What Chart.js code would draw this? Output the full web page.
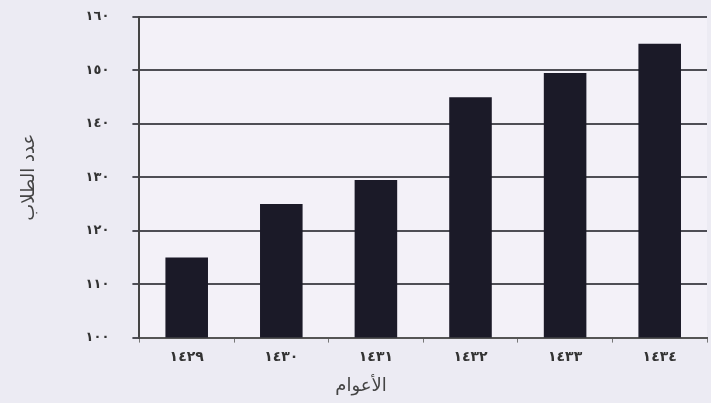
<!DOCTYPE html>
<html>
<head>
<meta charset="utf-8">
<script src="https://cdn.jsdelivr.net/npm/chart.js@4"></script>
<style>
  html, body { margin: 0; padding: 0; background: #ecebf3; }
  #wrap { width: 711px; height: 403px; }
</style>
</head>
<body>
<div id="wrap"><canvas id="studentsChart"></canvas></div>
<script>
const years = ['١٤٢٩', '١٤٣٠', '١٤٣١', '١٤٣٢', '١٤٣٣', '١٤٣٤'];
const students = [115, 125, 129.5, 145, 149.5, 155];
const yTickLabels = ['١٠٠', '١١٠', '١٢٠', '١٣٠', '١٤٠', '١٥٠', '١٦٠'];

const bgPlugin = {
  id: 'bg',
  beforeDraw(chart) {
    const { ctx, chartArea: a } = chart;
    ctx.save();
    ctx.fillStyle = '#ecebf3';
    ctx.fillRect(0, 0, chart.width, chart.height);
    ctx.fillStyle = '#f3f1f8';
    ctx.fillRect(a.left, a.top, a.right - a.left, a.bottom - a.top);
    ctx.restore();
  }
};

const ctx = document.getElementById('studentsChart');
new Chart(ctx, {
  type: 'bar',
  data: {
    labels: years,
    datasets: [{
      label: 'عدد الطلاب',
      data: students,
      backgroundColor: '#1b1a28',
      barPercentage: 0.9,
      categoryPercentage: 0.5
    }]
  },
  options: {
    responsive: true,
    maintainAspectRatio: false,
    animation: false,
    layout: { padding: { top: 17, right: 4, bottom: 6, left: 15 } },
    plugins: {
      legend: { display: false },
      tooltip: { enabled: false },
      title: {
        display: true,
        position: 'bottom',
        text: 'الأعوام',
        color: '#444',
        font: { family: 'DejaVu Sans', size: 18, weight: 'normal' },
        padding: { top: 4, bottom: 0 }
      }
    },
    scales: {
      x: {
        grid: { display: true, drawOnChartArea: false, color: '#777', tickLength: 5, offset: true },
        border: { color: '#555', width: 2 },
        ticks: { color: '#333', font: { family: 'DejaVu Sans', size: 14, weight: 'bold' }, padding: 6 }
      },
      y: {
        min: 100,
        max: 160,
        afterFit: scale => { scale.paddingTop = 0; scale.paddingBottom = 0; },
        grid: { color: '#4e4e55', lineWidth: 2, tickLength: 7 },
        border: { color: '#444', width: 2 },
        ticks: {
          stepSize: 10,
          color: '#333',
          padding: 23,
          font: { family: 'DejaVu Sans', size: 13, weight: 'bold' },
          callback: v => yTickLabels[Math.round((v - 100) / 10)]
        },
        title: { display: true, text: 'عدد الطلاب', color: '#444', font: { family: 'DejaVu Sans', size: 18 }, padding: { bottom: 22 } }
      }
    }
  },
  plugins: [bgPlugin]
});
</script>
</body>
</html>
